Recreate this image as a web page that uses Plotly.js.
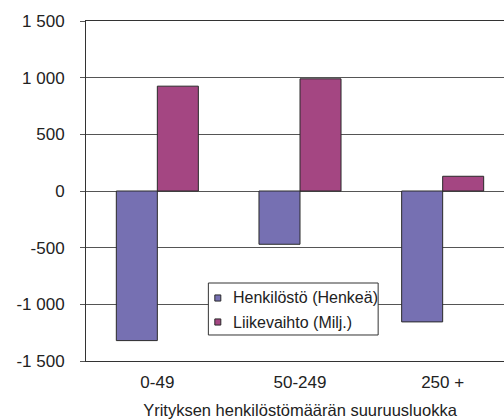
<!DOCTYPE html>
<html><head><meta charset="utf-8">
<script src="https://cdn.plot.ly/plotly-3.0.1.min.js"></script>
<style>html,body{margin:0;padding:0;overflow:hidden;background:#fff;}#chart{width:514px;height:419px;}</style>
</head><body><div id="chart"></div>
<script>
const categories = ['0-49', '50-249', '250 +'];
const henkilosto = [-1320, -470, -1155];
const liikevaihto = [925, 990, 130];
const seriesNames = ['Henkilöstö (Henkeä)', 'Liikevaihto (Milj.)'];
const seriesColors = ['#7670B2', '#A44682'];
const yTickVals = [-1500, -1000, -500, 0, 500, 1000, 1500];
const yTickText = ['-1 500', '-1 000', '-500', '0', '500', '1 000', '1 500'];
const xTitle = 'Yrityksen henkilöstömäärän suuruusluokka';

const font = 'Liberation Sans, Arial, sans-serif';
const outline = '#2a2a2a';
const traces = [
  {type:'bar', x:categories, y:henkilosto, name:seriesNames[0], showlegend:false,
   marker:{color:seriesColors[0], line:{color:outline, width:1}}},
  {type:'bar', x:categories, y:liikevaihto, name:seriesNames[1], showlegend:false,
   marker:{color:seriesColors[1], line:{color:outline, width:1}}}
];

// legend drawn as a framed box (paper coordinates)
const L = {x0:0.2859, x1:0.6826, y0:0.0765, y1:0.2294};
const rowY = [0.1853, 0.1147];
const swX = [0.3010, 0.3150], swH = 0.0090, txtX = 0.3384;
const shapes = [{type:'rect', xref:'paper', yref:'paper', x0:L.x0, x1:L.x1, y0:L.y0, y1:L.y1,
  fillcolor:'#fff', line:{color:'#333', width:1}, layer:'above'}];
const annotations = [];
seriesNames.forEach((n, i) => {
  shapes.push({type:'rect', xref:'paper', yref:'paper', x0:swX[0], x1:swX[1],
    y0:rowY[i]-swH, y1:rowY[i]+swH, fillcolor:seriesColors[i],
    line:{color:outline, width:1}, layer:'above'});
  annotations.push({xref:'paper', yref:'paper', x:txtX, y:rowY[i], xanchor:'left', yanchor:'middle',
    text:n, showarrow:false, font:{family:font, size:16, color:'#222'}});
});

const layout = {
  width:514, height:419,
  margin:{l:85.5, r:0, t:21, b:58, pad:0},
  paper_bgcolor:'#fff', plot_bgcolor:'#fff',
  barmode:'group', bargap:0.425, bargroupgap:0,
  font:{family:font, size:17, color:'#222'},
  showlegend:false,
  shapes:shapes, annotations:annotations,
  xaxis:{type:'category', range:[-0.5, 2.5], showgrid:false, zeroline:false,
    showline:true, linecolor:'#333', linewidth:1, mirror:true,
    ticks:'', ticklabelstandoff:6, tickfont:{family:font, size:17, color:'#222'},
    title:{text:xTitle, font:{family:font, size:16.5, color:'#222'}, standoff:13}},
  xaxis2:{overlaying:'x', anchor:'free', position:0.5, type:'linear',
    range:[-0.5, 2.5], tickvals:[0.5, 1.5], ticks:'outside', ticklen:6,
    tickcolor:'#555', showticklabels:false, showgrid:false, zeroline:false, showline:false},
  yaxis:{range:[-1500, 1500], tickvals:yTickVals, ticktext:yTickText,
    showgrid:true, gridcolor:'#555', gridwidth:1,
    zeroline:true, zerolinecolor:'#555', zerolinewidth:1,
    showline:true, linecolor:'#333', linewidth:1,
    ticks:'outside', ticklen:5, tickcolor:'#555', ticklabelstandoff:12,
    tickfont:{family:font, size:17, color:'#222'}}
};
Plotly.newPlot('chart', traces, layout, {staticPlot:true, displayModeBar:false});
</script></body></html>
